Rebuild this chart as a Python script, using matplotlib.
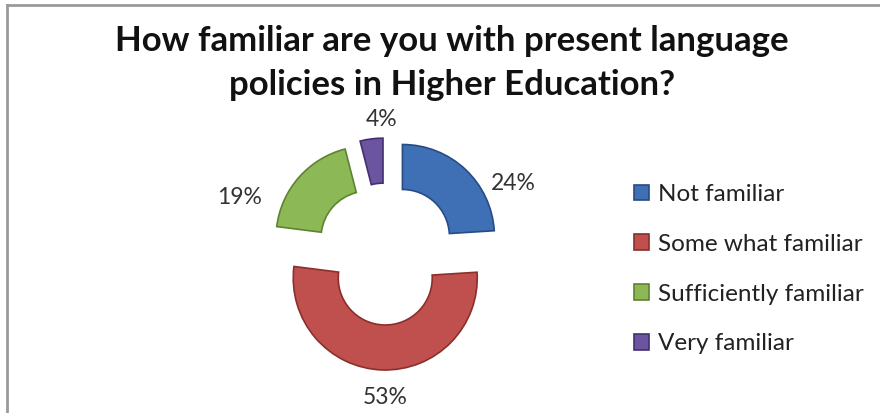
import matplotlib.pyplot as plt
from matplotlib.lines import Line2D

plt.rcParams['font.family'] = ['Lato', 'DejaVu Sans']

title = 'How familiar are you with present language\npolicies in Higher Education?'
categories = ['Not familiar', 'Some what familiar', 'Sufficiently familiar', 'Very familiar']
shares = [24, 53, 19, 4]

colors = ['#3F6FB5', '#C0504D', '#8CB955', '#6B54A0']
edges = ['#264C85', '#8A2F2C', '#5E8232', '#43306F']

# chart drawn in pixel units (880 x 413 canvas)
W, H = 880, 413
center = (386, H - 254)
radius = 92
ring = 45
gap = 24
pct_xy = [(513, H - 184), (385, H - 398), (240, H - 197), (382, H - 120)]

fig = plt.figure(figsize=(W / 100, H / 100), dpi=100)
fig.patch.set_facecolor('white')
ax = fig.add_axes([0, 0, 1, 1])

wedges, _ = ax.pie(shares, colors=colors, startangle=90, counterclock=False,
                   center=center, radius=radius, explode=[gap] * len(shares),
                   wedgeprops=dict(width=ring, linewidth=1.2))
for w, ec in zip(wedges, edges):
    w.set_edgecolor(ec)

ax.set_xlim(0, W)
ax.set_ylim(0, H)
ax.set_aspect('equal')
ax.axis('off')

for v, (x, y) in zip(shares, pct_xy):
    ax.text(x, y, f'{v}%', ha='center', va='center', fontsize=16.5, color='#333333')

ax.text(452, H - 63, title, ha='center', va='center', fontsize=25,
        fontweight='bold', color='#111111', linespacing=1.45)

# frame on the top and left sides
ax.add_line(Line2D([7, 7], [0, H - 5], color='#9A9A9A', lw=2))
ax.add_line(Line2D([7, W], [H - 5, H - 5], color='#9A9A9A', lw=2))

leg = ax.legend(wedges, categories, loc='upper left', bbox_to_anchor=(622 / W, 1 - 172 / H),
                frameon=False, fontsize=17.5, handlelength=0.62, handleheight=0.62,
                handletextpad=0.35, labelspacing=1.18, borderpad=0)
for t in leg.get_texts():
    t.set_color('#222222')

fig.savefig('out.png', dpi=100, facecolor='white')
